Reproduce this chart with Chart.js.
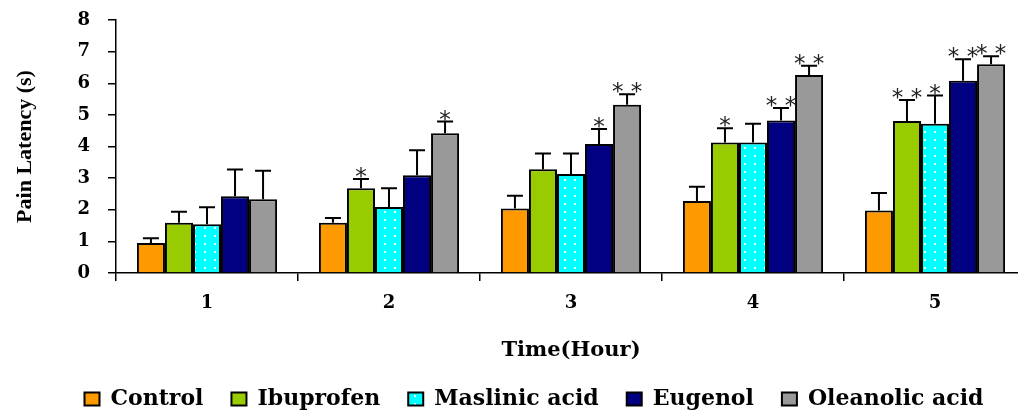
<!DOCTYPE html>
<html>
<head>
<meta charset="utf-8">
<script src="https://cdn.jsdelivr.net/npm/chart.js@4.4.1/dist/chart.umd.min.js"></script>
<style>
  html, body { margin: 0; padding: 0; overflow: hidden; background: #fff; width: 1018px; height: 410px; }
  canvas { display: block; }
</style>
</head>
<body>
<canvas id="c" width="1068" height="420"></canvas>
<script>
// ---- data ----
const categories = ['1', '2', '3', '4', '5'];
const seriesNames = ['Control', 'Ibuprofen', 'Maslinic acid', 'Eugenol', 'Oleanolic acid'];

const control   = [0.95, 1.59, 2.04, 2.28, 1.98];
const ibuprofen = [1.59, 2.68, 3.28, 4.13, 4.81];
const maslinic  = [1.54, 2.09, 3.13, 4.13, 4.72];
const eugenol   = [2.43, 3.09, 4.08, 4.82, 6.08];
const oleanolic = [2.33, 4.42, 5.32, 6.26, 6.60];

const controlErr   = [0.15, 0.15, 0.40, 0.45, 0.55];
const ibuprofenErr = [0.35, 0.29, 0.50, 0.45, 0.66];
const maslinicErr  = [0.54, 0.59, 0.65, 0.59, 0.89];
const eugenolErr   = [0.84, 0.79, 0.47, 0.40, 0.68];
const oleanolicErr = [0.90, 0.37, 0.33, 0.29, 0.25];

const controlSig   = ['', '', '', '', ''];
const ibuprofenSig = ['', '*', '', '*', '**'];
const maslinicSig  = ['', '', '', '', '*'];
const eugenolSig   = ['', '', '*', '**', '**'];
const oleanolicSig = ['', '*', '**', '**', '**'];

const yMin = 0, yMax = 8, yStep = 1;

// ---- styles ----
function dotPattern() {
  const c = document.createElement('canvas');
  c.width = 10; c.height = 8;
  const g = c.getContext('2d');
  g.fillStyle = '#00FFFF';
  g.fillRect(0, 0, 10, 8);
  g.fillStyle = '#E4FFFF';
  g.fillRect(4, 3, 2, 2);
  return g.createPattern(c, 'repeat');
}

const serifBold = (size) => ({ family: '"DejaVu Serif"', weight: 'bold', size: size });

const errorBarPlugin = {
  id: 'errorBars',
  afterDatasetsDraw(chart) {
    const ctx = chart.ctx;
    const y = chart.scales.y;
    chart.data.datasets.forEach((ds, i) => {
      const meta = chart.getDatasetMeta(i);
      meta.data.forEach((bar, j) => {
        const top = y.getPixelForValue(ds.data[j] + ds.errors[j]);
        const x = bar.x;
        ctx.save();
        ctx.strokeStyle = '#000';
        ctx.lineWidth = 2;
        ctx.beginPath();
        ctx.moveTo(x, bar.y);
        ctx.lineTo(x, top);
        ctx.moveTo(x - 8, top);
        ctx.lineTo(x + 8, top);
        ctx.stroke();
        const s = ds.sig[j];
        if (s) {
          ctx.font = '23px "DejaVu Sans"';
          ctx.textAlign = 'center';
          ctx.textBaseline = 'alphabetic';
          ctx.fillStyle = '#222';
          ctx.fillText(s.split('').join(' '), x, top + 5);
        }
        ctx.restore();
      });
    });
  }
};

const values = [control, ibuprofen, maslinic, eugenol, oleanolic];
const errs = [controlErr, ibuprofenErr, maslinicErr, eugenolErr, oleanolicErr];
const sigs = [controlSig, ibuprofenSig, maslinicSig, eugenolSig, oleanolicSig];
const fills = ['#FF9900', '#99CC00', dotPattern(), '#000080', '#999999'];

new Chart(document.getElementById('c'), {
  type: 'bar',
  data: {
    labels: categories,
    datasets: seriesNames.map((name, i) => ({
      label: name,
      data: values[i],
      errors: errs[i],
      sig: sigs[i],
      backgroundColor: fills[i],
      borderColor: '#000',
      borderWidth: 2,
      barPercentage: 1.0,
      categoryPercentage: 0.77
    }))
  },
  options: {
    responsive: false,
    animation: false,
    devicePixelRatio: 1,
    layout: { padding: { left: 42, right: 42, top: 20, bottom: 0 } },
    plugins: {
      tooltip: { enabled: false },
      legend: {
        position: 'bottom',
        labels: {
          boxWidth: 15,
          boxHeight: 13,
          padding: 28,
          color: '#000',
          font: serifBold(22)
        }
      }
    },
    scales: {
      x: {
        ticks: { padding: 12, color: '#000', font: serifBold(18) },
        grid: { drawOnChartArea: false, color: '#000', lineWidth: 1.5, tickLength: 8, offset: true },
        border: { color: '#000', width: 1.5 },
        title: { display: true, text: 'Time(Hour)', color: '#000', font: serifBold(21), padding: { top: 0, bottom: -3 } },
        afterFit(s) { s.height = 87; }
      },
      y: {
        min: yMin,
        max: yMax,
        ticks: { stepSize: yStep, padding: 18, color: '#000', font: serifBold(18) },
        grid: { drawOnChartArea: false, color: '#000', lineWidth: 1.5, tickLength: 8 },
        border: { color: '#000', width: 1.5 },
        title: {
          display: true, text: 'Pain Latency (s)', color: '#000',
          font: { family: '"Liberation Serif"', weight: 'bold', size: 22 },
          padding: { top: -30, bottom: 0 }
        },
        afterFit(s) { s.width = 74; s.paddingTop = 10; s.paddingBottom = 10; }
      }
    }
  },
  plugins: [errorBarPlugin]
});
</script>
</body>
</html>
